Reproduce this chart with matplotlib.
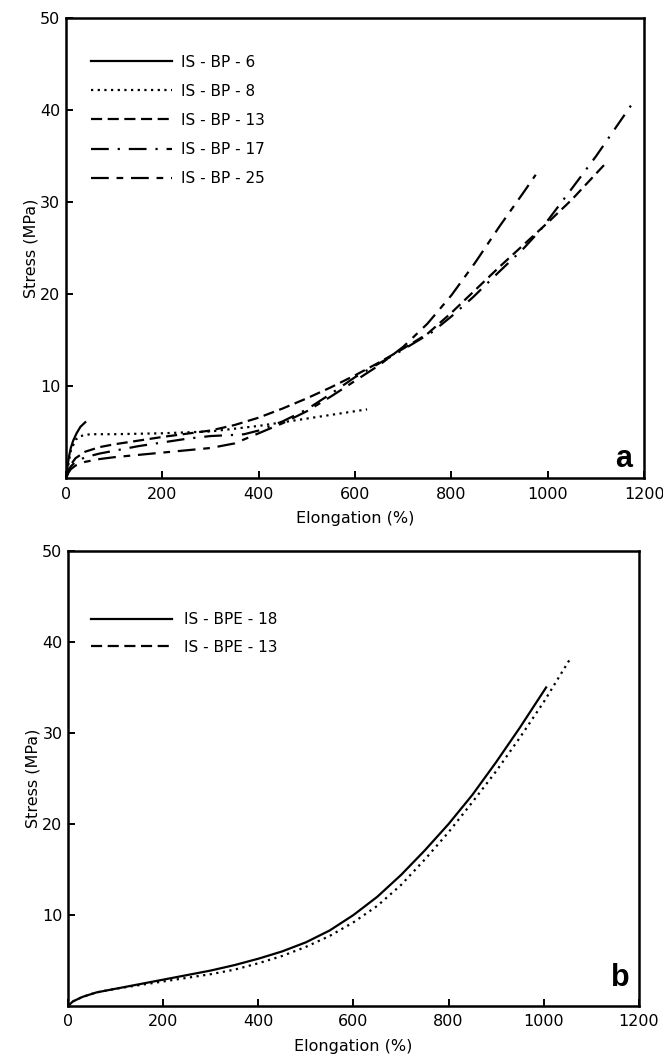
import matplotlib
matplotlib.use("Agg")
import matplotlib.pyplot as plt
from matplotlib.lines import Line2D

plt.rcParams["font.family"] = ["DejaVu Sans"]

# panel a: stress-strain of IS-BP samples (elongation %, stress MPa)
bp6_x = [0, 3, 6, 10, 15, 22, 30, 40]
bp6_y = [0, 1.2, 2.3, 3.3, 4.1, 4.9, 5.6, 6.1]

bp8_x = [0, 5, 10, 20, 30, 50, 100, 200, 300, 400, 450, 500, 550, 625]
bp8_y = [0, 1.5, 3.0, 4.2, 4.6, 4.8, 4.8, 4.9, 5.1, 5.7, 6.1, 6.5, 6.9, 7.5]

bp13_x = [0, 5, 10, 20, 40, 70, 100, 150, 200, 250, 300, 350, 400, 450, 500,
          550, 600, 650, 700, 750, 800, 850, 900, 950, 1000, 1050, 1123]
bp13_y = [0, 0.8, 1.5, 2.2, 2.9, 3.4, 3.7, 4.1, 4.5, 4.85, 5.2, 5.8, 6.6, 7.6,
          8.7, 9.9, 11.2, 12.6, 14.1, 15.7, 18.0, 20.5, 23.0, 25.4, 27.8,
          30.3, 34.4]

bp17_x = [0, 5, 10, 20, 40, 70, 100, 150, 200, 250, 300, 340, 370, 400, 450,
          500, 550, 600, 650, 700, 760, 800, 845, 900, 950, 985, 1050, 1100,
          1175]
bp17_y = [0, 0.8, 1.3, 1.8, 2.3, 2.7, 3.0, 3.5, 3.9, 4.3, 4.6, 4.7, 4.8, 5.2,
          6.2, 7.5, 9.2, 11.0, 12.5, 14.0, 15.9, 17.6, 19.7, 22.5, 25.0, 27.0,
          31.5, 35.0, 40.7]

bp25_x = [0, 5, 10, 20, 40, 70, 100, 200, 300, 350, 400, 450, 500, 550, 600,
          650, 700, 750, 800, 850, 900, 950, 975]
bp25_y = [0, 0.6, 1.0, 1.4, 1.8, 2.1, 2.3, 2.8, 3.3, 3.8, 4.9, 6.0, 7.3, 8.9,
          10.6, 12.3, 14.3, 16.8, 19.9, 23.5, 27.4, 31.1, 33.0]

# panel b: IS-BPE samples
bpe18_x = [0, 10, 30, 60, 100, 150, 200, 250, 300, 350, 400, 450, 500, 550,
           600, 650, 700, 750, 800, 850, 900, 950, 1005]
bpe18_y = [0, 0.5, 1.0, 1.5, 1.9, 2.4, 2.9, 3.4, 3.9, 4.5, 5.2, 6.0, 7.0, 8.3,
           10.0, 12.0, 14.4, 17.1, 20.0, 23.2, 26.8, 30.6, 35.0]

bpe13_x = [0, 10, 30, 60, 100, 150, 200, 250, 300, 350, 400, 450, 500, 550,
           600, 650, 700, 750, 800, 850, 900, 950, 1000, 1055]
bpe13_y = [0, 0.5, 1.0, 1.5, 1.9, 2.3, 2.7, 3.1, 3.5, 4.0, 4.7, 5.5, 6.5, 7.7,
           9.2, 11.0, 13.3, 16.1, 19.1, 22.4, 25.8, 29.5, 33.4, 38.1]

x_ticks = [0, 200, 400, 600, 800, 1000, 1200]
y_ticks = [10, 20, 30, 40, 50]

LW = 1.6
DOT = (1, 2)
DASH = (5, 2.5)
DASHDOT = (8, 4, 1, 4)
LONGSHORT = (8, 3.5, 3, 3.5)


def style_axes(ax):
    ax.set_xlim(0, 1200)
    ax.set_ylim(0, 50)
    ax.set_xticks(x_ticks)
    ax.set_yticks(y_ticks)
    ax.tick_params(direction="in", length=5, width=1.4, labelsize=11.5,
                   top=False, right=False)
    ax.tick_params(axis="x", pad=6)
    ax.tick_params(axis="y", pad=4)
    for s in ax.spines.values():
        s.set_linewidth(1.8)
    ax.set_xlabel("Elongation (%)", fontsize=11.5, labelpad=7)
    ax.set_ylabel("Stress (MPa)", fontsize=11.5, labelpad=1)


fig = plt.figure(figsize=(6.63, 10.56), dpi=100)

ax1 = fig.add_axes([0.0995, 0.547, 0.872, 0.4356])
ax1.plot(bp6_x, bp6_y, color="black", lw=LW, label="IS - BP - 6")
ax1.plot(bp8_x, bp8_y, color="black", lw=LW, dashes=DOT, label="IS - BP - 8")
ax1.plot(bp13_x, bp13_y, color="black", lw=LW, dashes=DASH,
         label="IS - BP - 13")
ax1.plot(bp17_x, bp17_y, color="black", lw=LW, dashes=DASHDOT,
         label="IS - BP - 17")
ax1.plot(bp25_x, bp25_y, color="black", lw=LW, dashes=LONGSHORT,
         label="IS - BP - 25")
style_axes(ax1)
ax1.legend(loc="upper left", bbox_to_anchor=(0.043, 0.921), frameon=False,
           borderaxespad=0, borderpad=0, handlelength=5.3, handletextpad=0.6,
           labelspacing=0.92, fontsize=11)
ax1.text(0.964, 0.043, "a", transform=ax1.transAxes, ha="center",
         va="center", fontsize=22, fontweight="bold",
         family="Liberation Sans")

ax2 = fig.add_axes([0.1026, 0.0473, 0.861, 0.431])
ax2.plot(bpe18_x, bpe18_y, color="black", lw=LW)
ax2.plot(bpe13_x, bpe13_y, color="black", lw=LW, dashes=DOT)
style_axes(ax2)
handles = [Line2D([], [], color="black", lw=LW),
           Line2D([], [], color="black", lw=LW, dashes=DASH)]
ax2.legend(handles, ["IS - BPE - 18", "IS - BPE - 13"], loc="upper left",
           bbox_to_anchor=(0.040, 0.866), frameon=False, borderaxespad=0,
           borderpad=0, handlelength=5.3, handletextpad=0.8,
           labelspacing=0.83, fontsize=11)
ax2.text(0.967, 0.062, "b", transform=ax2.transAxes, ha="center",
         va="center", fontsize=22, fontweight="bold",
         family="Liberation Sans")

fig.savefig("out.png", dpi=100)
